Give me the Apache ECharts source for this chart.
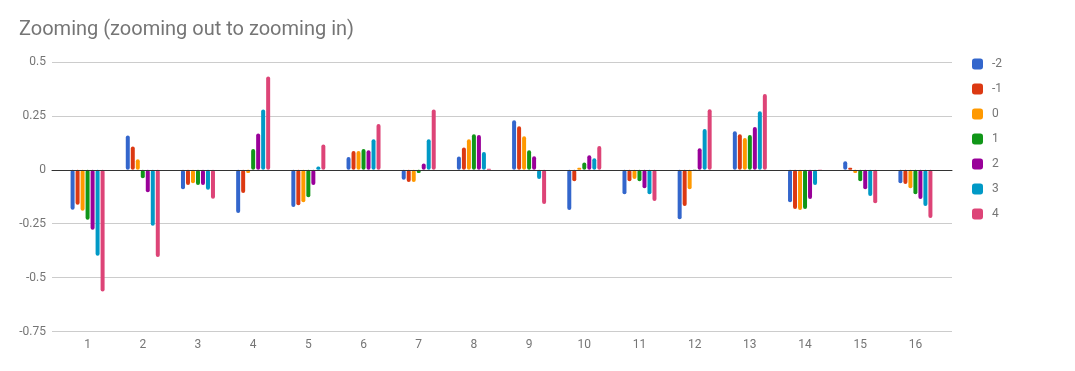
<!DOCTYPE html>
<html>
<head>
<meta charset="utf-8">
<script src="https://cdn.jsdelivr.net/npm/echarts@6/dist/echarts.min.js"></script>
<style>
html,body{margin:0;padding:0;background:#fff;}
#chart{width:1075px;height:371px;}
</style>
</head>
<body>
<div id="chart"></div>
<script>
const categories = ['1','2','3','4','5','6','7','8','9','10','11','12','13','14','15','16'];
const seriesNames = ['-2','-1','0','1','2','3','4'];
const sM2 = [-0.185, 0.159, -0.09, -0.2, -0.173, 0.059, -0.046, 0.062, 0.23, -0.187, -0.113, -0.229, 0.179, -0.15, 0.04, -0.062];
const sM1 = [-0.162, 0.108, -0.07, -0.108, -0.164, 0.087, -0.057, 0.104, 0.202, -0.053, -0.053, -0.168, 0.165, -0.182, 0.009, -0.066];
const s0  = [-0.19, 0.049, -0.062, -0.015, -0.15, 0.087, -0.057, 0.142, 0.156, 0.009, -0.043, -0.09, 0.147, -0.187, -0.015, -0.085];
const s1  = [-0.232, -0.039, -0.07, 0.096, -0.127, 0.096, -0.015, 0.165, 0.091, 0.034, -0.053, -0.006, 0.161, -0.182, -0.053, -0.113];
const s2  = [-0.278, -0.104, -0.07, 0.168, -0.071, 0.091, 0.029, 0.161, 0.063, 0.068, -0.085, 0.1, 0.198, -0.136, -0.09, -0.136];
const s3  = [-0.399, -0.26, -0.093, 0.28, 0.015, 0.142, 0.142, 0.082, -0.043, 0.054, -0.113, 0.189, 0.272, -0.071, -0.122, -0.168];
const s4  = [-0.564, -0.405, -0.134, 0.433, 0.117, 0.212, 0.28, 0.005, -0.159, 0.11, -0.145, 0.281, 0.351, -0.003, -0.155, -0.224];
const yTicks = {min: -0.75, max: 0.5, interval: 0.25};
const colors = ['#3366cc','#dc3912','#ff9900','#109618','#990099','#0099c6','#dd4477'];

const allValues = [sM2, sM1, s0, s1, s2, s3, s4];
const font = 'Roboto';
const chart = echarts.init(document.getElementById('chart'), null, {renderer: 'canvas'});
chart.setOption({
  animation: false,
  color: colors,
  textStyle: {fontFamily: font},
  title: {
    text: 'Zooming (zooming out to zooming in)',
    left: 19, top: 20, padding: 0,
    textStyle: {fontFamily: font, fontSize: 20, fontWeight: 'normal', color: '#757575'}
  },
  legend: {
    orient: 'vertical',
    left: 972, top: 57, padding: 0,
    itemWidth: 11, itemHeight: 11, itemGap: 11,
    icon: 'roundRect',
    data: seriesNames,
    textStyle: {fontFamily: font, fontSize: 12, color: '#757575', lineHeight: 14, padding: [0, 0, 0, 4]}
  },
  grid: [
    {left: 60, right: 132, top: 62, bottom: 39.5},
    {left: 52, right: 123, top: 62, bottom: 39.5}
  ],
  xAxis: [
    {type: 'category', gridIndex: 0, data: categories,
     axisLine: {show: false}, axisTick: {show: false},
     axisLabel: {margin: 7, color: '#757575', fontSize: 12, fontFamily: font},
     splitLine: {show: false}},
    {type: 'value', gridIndex: 1, min: 0, max: 1, z: 5,
     axisLine: {show: true, onZero: true, lineStyle: {color: '#333', width: 1}},
     axisTick: {show: false}, axisLabel: {show: false}, splitLine: {show: false}}
  ],
  yAxis: [
    {type: 'value', gridIndex: 0, min: yTicks.min, max: yTicks.max, interval: yTicks.interval,
     axisLine: {show: false}, axisTick: {show: false}, axisLabel: {show: false}, splitLine: {show: false}},
    {type: 'value', gridIndex: 1, min: yTicks.min, max: yTicks.max, interval: yTicks.interval,
     axisLine: {show: false}, axisTick: {show: false},
     axisLabel: {margin: 6, color: '#757575', fontSize: 12, fontFamily: font},
     splitLine: {show: true, lineStyle: {color: '#cccccc', width: 1}}}
  ],
  series: seriesNames.map((name, i) => ({
    name: name,
    type: 'bar',
    xAxisIndex: 0, yAxisIndex: 0,
    data: allValues[i],
    barWidth: 4,
    barGap: '25%',
    itemStyle: {color: colors[i], borderRadius: 2}
  }))
});
</script>
</body>
</html>
